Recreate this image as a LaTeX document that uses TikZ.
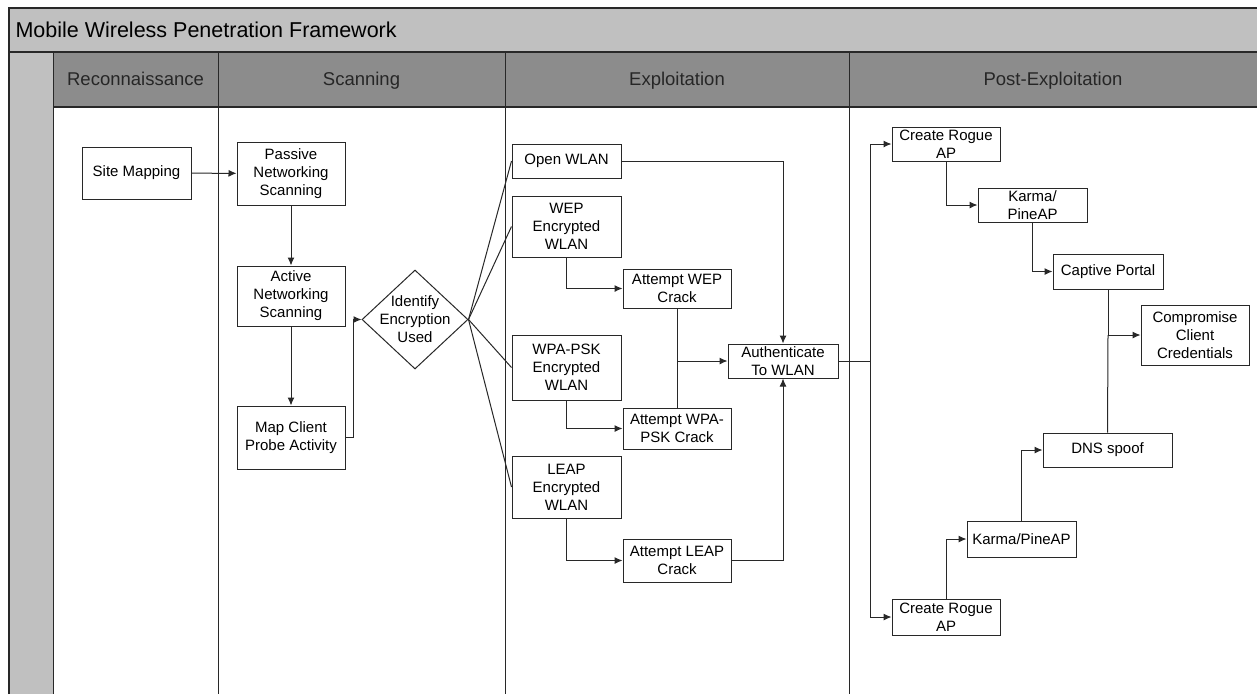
\documentclass[tikz,border=0pt]{standalone}
\usepackage{fontspec}
\setmainfont{Liberation Sans}
\usetikzlibrary{shapes.geometric,arrows.meta}
\definecolor{bandgray}{HTML}{C0C0C0}
\definecolor{headgray}{HTML}{8C8C8C}
\definecolor{linegray}{HTML}{282828}

\begin{document}
\begin{tikzpicture}[x=1pt, y=-1pt,
  box/.style={draw=linegray, fill=white, line width=1pt, inner sep=0pt, align=center,
    font=\fontsize{15}{18}\selectfont},
  decide/.style={draw=linegray, fill=white, line width=1pt, diamond, inner sep=-8pt, align=center,
    minimum width=106pt, minimum height=99pt, font=\fontsize{15}{18}\selectfont},
  lanehead/.style={font=\fontsize{18.5}{20}\selectfont, text=black!85, text height=13.5pt, text depth=4pt},
  arr/.style={draw=linegray, line width=1pt, -{Latex[length=8pt,width=7pt]}},
  lnk/.style={draw=linegray, line width=1pt}]
\useasboundingbox (0,0) rectangle (1257,694);
\fill[white] (0,0) rectangle (1257,694);
\fill[bandgray] (9,8) rectangle (1257,52);
\fill[headgray] (53,52) rectangle (1257,107);
\fill[bandgray] (9,52) rectangle (53,694);
\draw[linegray, line width=2.5pt] (9,694) -- (9,8);
\draw[linegray, line width=1.8pt] (8,8) -- (1257,8);
\draw[linegray, line width=1.2pt] (9,52) -- (1257,52);
\draw[linegray, line width=1.2pt] (53,107) -- (1257,107);
\draw[linegray, line width=1pt] (53,52) -- (53,694);
\foreach \x in {218,505,849}
  \draw[linegray, line width=1pt] (\x,52) -- (\x,694);

\node[anchor=west, font=\fontsize{21.5}{23}\selectfont] (T) at (12,30) {Mobile Wireless Penetration Framework};
\node[lanehead] (H1) at (135.5,81) {Reconnaissance};
\node[lanehead] (H2) at (361.5,81) {Scanning};
\node[lanehead] (H3) at (677,81) {Exploitation};
\node[lanehead] (H4) at (1053,81) {Post-Exploitation};

\node[box, minimum width=109pt, minimum height=52pt] (R1) at (136.5,173) {Site Mapping};
\node[box, minimum width=108pt, minimum height=63pt] (S1) at (291,173.5) {Passive\\Networking\\Scanning};
\node[box, minimum width=108pt, minimum height=60pt] (S2) at (291,296) {Active\\Networking\\Scanning};
\node[box, minimum width=108pt, minimum height=63pt] (S3) at (291,437.5) {Map Client\\Probe Activity};
\node[decide] (D1) at (415,319.5) {Identify\\Encryption\\Used};

\node[box, minimum width=109pt, minimum height=34pt] (E1) at (566.5,161) {Open WLAN};
\node[box, minimum width=109pt, minimum height=61pt] (E2) at (566.5,226.5) {WEP\\Encrypted\\WLAN};
\node[box, minimum width=109pt, minimum height=65pt] (E3) at (566.5,367.5) {WPA-PSK\\Encrypted\\WLAN};
\node[box, minimum width=109pt, minimum height=62pt] (E4) at (566.5,487) {LEAP\\Encrypted\\WLAN};
\node[box, minimum width=108pt, minimum height=39pt] (C1) at (677,288.5) {Attempt WEP\\Crack};
\node[box, minimum width=108pt, minimum height=41pt] (C2) at (677,428.5) {Attempt WPA-\\PSK Crack};
\node[box, minimum width=108pt, minimum height=43pt] (C3) at (677,560.5) {Attempt LEAP\\Crack};
\node[box, minimum width=110pt, minimum height=34pt] (A1) at (783,361) {Authenticate\\To WLAN};

\node[box, minimum width=108pt, minimum height=34pt] (P1) at (946,144) {Create Rogue\\AP};
\node[box, minimum width=109pt, minimum height=34pt] (P2) at (1032.5,205) {Karma/\\PineAP};
\node[box, minimum width=110pt, minimum height=35pt] (P3) at (1108,271.5) {Captive Portal};
\node[box, minimum width=108pt, minimum height=60pt] (P4) at (1195,335) {Compromise\\Client\\Credentials};
\node[box, minimum width=129pt, minimum height=34pt] (P5) at (1107.5,450) {DNS spoof};
\node[box, minimum width=109pt, minimum height=36pt] (P6) at (1021.5,539) {Karma/PineAP};
\node[box, minimum width=108pt, minimum height=36pt] (P7) at (946,617) {Create Rogue\\AP};

\draw[arr] (R1) -- (S1);
\draw[arr] (S1) -- (S2);
\draw[arr] (S2) -- (S3);
\draw[arr] (S3.east) -- ++(8,0) |- (D1.west);
\draw[lnk] (D1.east) -- (E1.west);
\draw[lnk] (D1.east) -- (E2.west);
\draw[lnk] (D1.east) -- (E3.west);
\draw[lnk] (D1.east) -- (E4.west);
\draw[arr] (E1.east) -| (A1.north);
\draw[arr] (E2.south) |- (C1.west);
\draw[arr] (E3.south) |- (C2.west);
\draw[arr] (E4.south) |- (C3.west);
\draw[lnk] (C1.south) -- (C2.north);
\draw[arr] (C1.south |- A1.west) -- (A1.west);
\draw[arr] (C3.east) -| (A1.south);
\coordinate (J1) at (870,361);
\draw[lnk] (A1.east) -- (J1);
\draw[arr] (J1) |- (P1.west);
\draw[arr] (J1) |- (P7.west);
\draw[arr] (P1.south) |- (P2.west);
\draw[arr] (P2.south) |- (P3.west);
\coordinate (J2) at (P3.south |- P4.west);
\draw[lnk] (P3.south) -- (J2);
\draw[lnk] (P5.north) -- (J2);
\draw[arr] (J2) -- (P4.west);
\draw[arr] (P7.north) |- (P6.west);
\draw[arr] (P6.north) |- (P5.west);
\end{tikzpicture}
\end{document}
